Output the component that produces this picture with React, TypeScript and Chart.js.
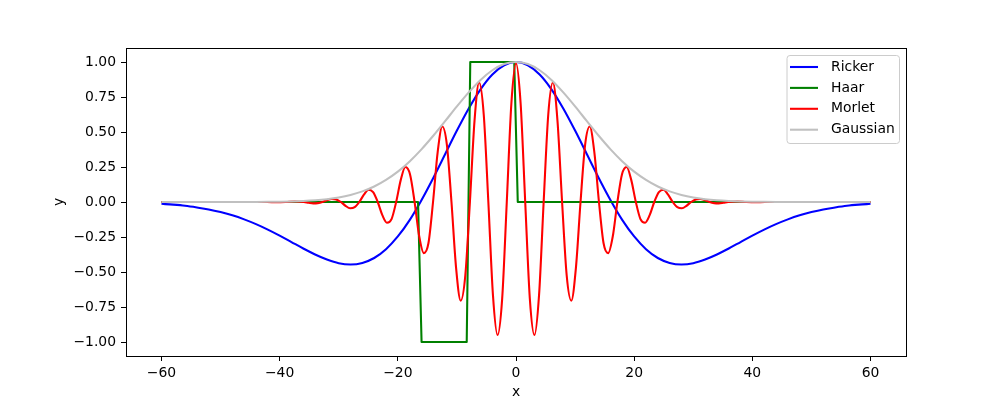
import React, { useEffect, useRef } from "react";
import { Chart, registerables } from "chart.js";

Chart.register(...registerables);

// ---- data ----
const gridX = [
  -60, -58, -56, -54, -52, -50, -48, -46, -44, -42, -40, -38, -36, -34, -32, -30,
  -28, -26, -24, -22, -20, -18, -16, -14, -12, -10, -8, -6, -4, -2, 0,
  2, 4, 6, 8, 10, 12, 14, 16, 18, 20, 22, 24, 26, 28, 30,
  32, 34, 36, 38, 40, 42, 44, 46, 48, 50, 52, 54, 56, 58, 60,
];

const rickerY = [
  -0.013, -0.019, -0.027, -0.039, -0.053, -0.072, -0.095, -0.124, -0.158, -0.197,
  -0.24, -0.286, -0.332, -0.375, -0.411, -0.437, -0.446, -0.435, -0.4, -0.337,
  -0.246, -0.129, 0.013, 0.172, 0.341, 0.51, 0.668, 0.805, 0.911, 0.977,
  1.0,
  0.977, 0.911, 0.805, 0.668, 0.51, 0.341, 0.172, 0.013, -0.129, -0.246,
  -0.337, -0.4, -0.435, -0.446, -0.437, -0.411, -0.375, -0.332, -0.286, -0.24,
  -0.197, -0.158, -0.124, -0.095, -0.072, -0.053, -0.039, -0.027, -0.019, -0.013,
];

const gaussianY = [
  0, 0, 0, 0, 0, 0, 0.0001, 0.0003, 0.0006, 0.0012,
  0.0022, 0.004, 0.0071, 0.0121, 0.0201, 0.0322, 0.0502, 0.0758, 0.111, 0.158,
  0.217, 0.29, 0.376, 0.473, 0.577, 0.683, 0.783, 0.872, 0.941, 0.985,
  1.0,
  0.985, 0.941, 0.872, 0.783, 0.683, 0.577, 0.473, 0.376, 0.29, 0.217,
  0.158, 0.111, 0.0758, 0.0502, 0.0322, 0.0201, 0.0121, 0.0071, 0.004, 0.0022,
  0.0012, 0.0006, 0.0003, 0.0001, 0, 0, 0, 0, 0, 0,
];

const haarX = [-60, -16.58, -15.98, -8.34, -7.74, -0.3, 0.3, 60];
const haarY = [0, 0, -1, -1, 1, 1, 0, 0];

const morletX = [
  -60, -42.12, -40.56, -39, -37.44, -35.88, -35.1, -34.32, -33.54, -32.76,
  -31.98, -31.2, -30.42, -29.64, -28.86, -28.08, -27.3, -26.52, -25.74, -24.96,
  -24.18, -23.4, -22.62, -21.84, -21.06, -20.28, -19.5, -18.72, -17.94, -17.16,
  -16.38, -15.6, -14.82, -14.04, -13.26, -12.48, -11.7, -10.92, -10.14, -9.36,
  -8.58, -7.8, -7.02, -6.24, -5.46, -4.68, -3.9, -3.12, -2.34, -1.56, -0.78,
  0,
  0.78, 1.56, 2.34, 3.12, 3.9, 4.68, 5.46, 6.24, 7.02, 7.8,
  8.58, 9.36, 10.14, 10.92, 11.7, 12.48, 13.26, 14.04, 14.82, 15.6,
  16.38, 17.16, 17.94, 18.72, 19.5, 20.28, 21.06, 21.84, 22.62, 23.4,
  24.18, 24.96, 25.74, 26.52, 27.3, 28.08, 28.86, 29.64, 30.42, 31.2,
  31.98, 32.76, 33.54, 34.32, 35.1, 35.88, 37.44, 39, 40.56, 42.12, 60,
];

const morletY = [
  0, 0, -0.0016, 0, 0.004, 0, -0.0056, -0.01, -0.008, 0,
  0.013, 0.022, 0.018, 0, -0.027, -0.045, -0.037, 0, 0.052, 0.088,
  0.07, 0, -0.094, -0.148, -0.122, 0, 0.158, 0.25, 0.198, 0,
  -0.245, -0.365, -0.295, 0, 0.355, 0.539, 0.41, 0, -0.47, -0.705,
  -0.525, 0, 0.58, 0.853, 0.625, 0, -0.665, -0.95, -0.69, 0, 0.705,
  0.99,
  0.705, 0, -0.69, -0.95, -0.665, 0, 0.625, 0.853, 0.58, 0,
  -0.525, -0.705, -0.47, 0, 0.41, 0.539, 0.355, 0, -0.295, -0.365,
  -0.245, 0, 0.198, 0.25, 0.158, 0, -0.122, -0.148, -0.094, 0,
  0.07, 0.088, 0.052, 0, -0.037, -0.045, -0.027, 0, 0.018, 0.022,
  0.013, 0, -0.008, -0.01, -0.0056, 0, 0.004, 0, -0.0016, 0, 0,
];

const xTicks = [-60, -40, -20, 0, 20, 40, 60];
const yTicks = [-1, -0.75, -0.5, -0.25, 0, 0.25, 0.5, 0.75, 1];

const seriesNames = ["Ricker", "Haar", "Morlet", "Gaussian"];
const seriesColors = ["#0000ff", "#008000", "#ff0000", "#c0c0c0"];

const FONT = "DejaVu Sans";
const FS = 13.9;

const minus = (s: string) => s.replace("-", "\u2212");

const zip = (xs: number[], ys: number[]) => xs.map((x, i) => ({ x, y: ys[i] }));

const framePlugin = {
  id: "frameAndLegend",
  afterDraw(chart: any) {
    const { ctx, chartArea: a } = chart;
    ctx.save();
    // axes frame (all four spines)
    ctx.strokeStyle = "#000";
    ctx.lineWidth = 1;
    ctx.strokeRect(Math.round(a.left) + 0.5, Math.round(a.top) + 0.5,
      Math.round(a.right - a.left), Math.round(a.bottom - a.top));

    // legend box, upper right inside the axes
    const boxW = 112.5;
    const boxH = 88;
    const bx = Math.round(a.right) - 7 - boxW;
    const by = Math.round(a.top) + 7;
    ctx.beginPath();
    (ctx as any).roundRect(bx + 0.5, by + 0.5, boxW, boxH, 3);
    ctx.fillStyle = "rgba(255,255,255,0.8)";
    ctx.fill();
    ctx.strokeStyle = "#cccccc";
    ctx.lineWidth = 1;
    ctx.stroke();

    ctx.font = `${FS}px "${FONT}"`;
    ctx.textBaseline = "middle";
    ctx.textAlign = "left";
    seriesNames.forEach((name, i) => {
      const ly = by + 12 + i * 20.9;
      ctx.beginPath();
      ctx.strokeStyle = seriesColors[i];
      ctx.lineWidth = 2.08;
      ctx.moveTo(bx + 3.5, ly);
      ctx.lineTo(bx + 31.5, ly);
      ctx.stroke();
      ctx.fillStyle = "#000";
      ctx.fillText(name, bx + 44.5, ly);
    });
    ctx.restore();
  },
};

export default function App() {
  const ref = useRef<HTMLCanvasElement | null>(null);

  useEffect(() => {
    if (!ref.current) return;
    Chart.defaults.font.family = FONT;
    const smooth = { cubicInterpolationMode: "monotone" as const };
    const chart = new Chart(ref.current, {
      type: "line",
      data: {
        datasets: [
          { label: seriesNames[0], data: zip(gridX, rickerY), borderColor: seriesColors[0], order: 3, ...smooth },
          { label: seriesNames[1], data: zip(haarX, haarY), borderColor: seriesColors[1], order: 2, tension: 0 },
          { label: seriesNames[2], data: zip(morletX, morletY), borderColor: seriesColors[2], order: 1, ...smooth },
          { label: seriesNames[3], data: zip(gridX, gaussianY), borderColor: seriesColors[3], order: 0, ...smooth },
        ],
      },
      options: {
        animation: false,
        responsive: false,
        devicePixelRatio: 1,
        parsing: false as any,
        normalized: true,
        layout: { padding: { top: 48, right: 101, left: 0, bottom: 0 } },
        elements: {
          point: { radius: 0, hoverRadius: 0 },
          line: { borderWidth: 2.08, fill: false, borderCapStyle: "butt", borderJoinStyle: "round" },
        },
        plugins: { legend: { display: false }, tooltip: { enabled: false } },
        scales: {
          x: {
            type: "linear",
            min: -66,
            max: 66,
            afterFit: (s: any) => { s.height = 44; },
            afterBuildTicks: (s: any) => { s.ticks = xTicks.map((v) => ({ value: v })); },
            ticks: {
              color: "#000",
              font: { size: FS, family: FONT },
              padding: 4,
              maxRotation: 0,
              autoSkip: false,
              callback: (v: any) => minus(String(v)),
            },
            grid: { drawOnChartArea: false, drawTicks: true, tickLength: 5, color: "#000", lineWidth: 1 },
            border: { display: false },
            title: { display: true, text: "x", color: "#000", font: { size: FS, family: FONT }, padding: { top: 0, bottom: -1 } },
          },
          y: {
            type: "linear",
            min: -1.1,
            max: 1.1,
            afterFit: (s: any) => { s.width = 126; },
            afterBuildTicks: (s: any) => { s.ticks = yTicks.map((v) => ({ value: v })); },
            ticks: {
              color: "#000",
              font: { size: FS, family: FONT },
              padding: 5,
              autoSkip: false,
              callback: (v: any) => minus(Number(v).toFixed(2)),
            },
            grid: { drawOnChartArea: false, drawTicks: true, tickLength: 5, color: "#000", lineWidth: 1 },
            border: { display: false },
            title: { display: true, text: "y", color: "#000", font: { size: FS, family: FONT }, padding: { top: 51, bottom: 0 } },
          },
        },
      },
      plugins: [framePlugin],
    } as any);
    return () => chart.destroy();
  }, []);

  return (
    <div style={{ position: "absolute", left: 0, top: 0, width: 1007, height: 400, background: "#fff" }}>
      <canvas ref={ref} width={1007} height={400} style={{ display: "block" }} />
    </div>
  );
}
